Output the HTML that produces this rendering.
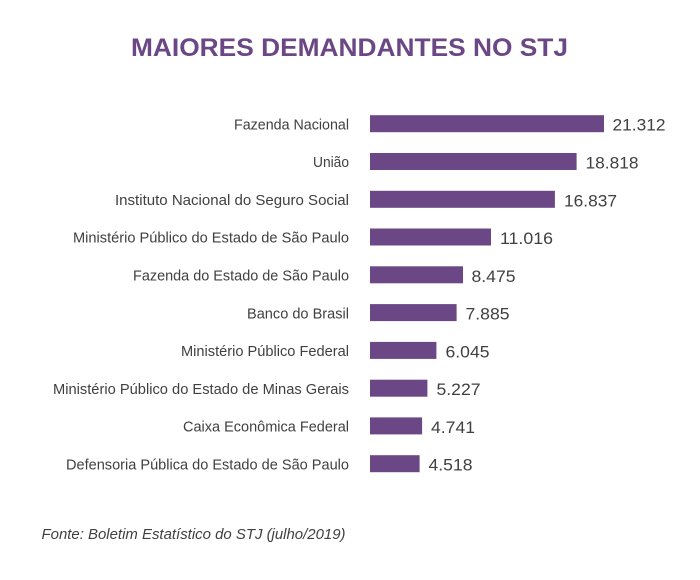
<!DOCTYPE html>
<html>
<head>
<meta charset="utf-8">
<style>
  html,body{margin:0;padding:0;background:#fff;}
  svg{display:block;}
  .lbl{font-family:"Liberation Sans","DejaVu Sans",sans-serif;font-size:15px;fill:#404040;}
  .val{font-family:"Liberation Sans","DejaVu Sans",sans-serif;font-size:17px;fill:#404040;}
</style>
</head>
<body>
<svg width="700" height="580" viewBox="0 0 700 580" xmlns="http://www.w3.org/2000/svg">
  <rect width="700" height="580" fill="#fff"/>
  <text x="131" y="56" textLength="437" lengthAdjust="spacingAndGlyphs" font-family="'Liberation Sans','DejaVu Sans',sans-serif" font-weight="bold" font-size="25" fill="#6b4785">MAIORES DEMANDANTES NO STJ</text>

  <g fill="#6b4785">
    <rect x="370" y="115.2" width="234" height="17"/>
    <rect x="370" y="153.0" width="206.6" height="17"/>
    <rect x="370" y="190.8" width="184.9" height="17"/>
    <rect x="370" y="228.5" width="121.0" height="17"/>
    <rect x="370" y="266.3" width="93.0" height="17"/>
    <rect x="370" y="304.1" width="86.6" height="17"/>
    <rect x="370" y="341.9" width="66.4" height="17"/>
    <rect x="370" y="379.7" width="57.4" height="17"/>
    <rect x="370" y="417.4" width="52.1" height="17"/>
    <rect x="370" y="455.2" width="49.6" height="17"/>
  </g>

  <g class="lbl">
    <text x="234" y="129.4" textLength="115" lengthAdjust="spacingAndGlyphs">Fazenda Nacional</text>
    <text x="313" y="167.2" textLength="36" lengthAdjust="spacingAndGlyphs">União</text>
    <text x="115" y="205.0" textLength="234" lengthAdjust="spacingAndGlyphs">Instituto Nacional do Seguro Social</text>
    <text x="73" y="242.7" textLength="276" lengthAdjust="spacingAndGlyphs">Ministério Público do Estado de São Paulo</text>
    <text x="133" y="280.5" textLength="216" lengthAdjust="spacingAndGlyphs">Fazenda do Estado de São Paulo</text>
    <text x="247" y="318.3" textLength="102" lengthAdjust="spacingAndGlyphs">Banco do Brasil</text>
    <text x="181" y="356.1" textLength="168" lengthAdjust="spacingAndGlyphs">Ministério Público Federal</text>
    <text x="53" y="393.9" textLength="296" lengthAdjust="spacingAndGlyphs">Ministério Público do Estado de Minas Gerais</text>
    <text x="183" y="431.6" textLength="166" lengthAdjust="spacingAndGlyphs">Caixa Econômica Federal</text>
    <text x="66" y="469.4" textLength="283" lengthAdjust="spacingAndGlyphs">Defensoria Pública do Estado de São Paulo</text>
  </g>

  <g class="val">
    <text x="612.5" y="130.7" textLength="53" lengthAdjust="spacingAndGlyphs">21.312</text>
    <text x="585.5" y="168.5" textLength="53" lengthAdjust="spacingAndGlyphs">18.818</text>
    <text x="564" y="206.3" textLength="53" lengthAdjust="spacingAndGlyphs">16.837</text>
    <text x="500" y="244.0" textLength="53" lengthAdjust="spacingAndGlyphs">11.016</text>
    <text x="471.5" y="281.8" textLength="44" lengthAdjust="spacingAndGlyphs">8.475</text>
    <text x="465.5" y="319.6" textLength="44" lengthAdjust="spacingAndGlyphs">7.885</text>
    <text x="445.5" y="357.4" textLength="44" lengthAdjust="spacingAndGlyphs">6.045</text>
    <text x="436.5" y="395.2" textLength="44" lengthAdjust="spacingAndGlyphs">5.227</text>
    <text x="431" y="432.9" textLength="44" lengthAdjust="spacingAndGlyphs">4.741</text>
    <text x="428.5" y="470.7" textLength="44" lengthAdjust="spacingAndGlyphs">4.518</text>
  </g>

  <text x="41.5" y="539" textLength="304" lengthAdjust="spacingAndGlyphs" font-family="'Liberation Sans','DejaVu Sans',sans-serif" font-style="italic" font-size="15" fill="#404040">Fonte: Boletim Estatístico do STJ (julho/2019)</text>
</svg>
</body>
</html>
